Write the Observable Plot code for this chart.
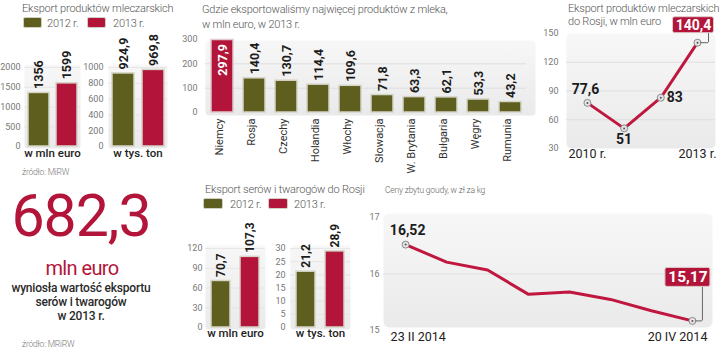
<!DOCTYPE html>
<html><head><meta charset="utf-8">
<script src="https://cdn.jsdelivr.net/npm/d3@7"></script>
<script src="https://cdn.jsdelivr.net/npm/@observablehq/plot@0.6"></script>
<style>
body{margin:0;background:#fff;}
#root{position:relative;width:720px;height:356px;overflow:hidden;font-family:Roboto,sans-serif;background:#fff;}
.t{position:absolute;white-space:nowrap;color:#555;font-weight:300;font-size:11px;line-height:1;letter-spacing:-0.2px;}
.sw{position:absolute;height:11px;border:1px solid #cfcfc2;border-radius:2px;box-sizing:border-box;}
</style></head><body>
<svg width="0" height="0" style="position:absolute"><defs>
<linearGradient id="pg" x1="0" y1="0" x2="0" y2="1"><stop offset="0" stop-color="#f7f7f7"/><stop offset="1" stop-color="#eaeaea"/></linearGradient>
</defs></svg>
<div id="root"></div>
<script>
// ---- data ----
const years = ["2012 r.", "2013 r."];
const dairyMlnEuro = [1356, 1599];
const dairyTysTon = [924.9, 969.8];
const countries = ["Niemcy","Rosja","Czechy","Holandia","Włochy","Słowacja","W. Brytania","Bułgaria","Węgry","Rumunia"];
const countryValues = [297.9, 140.4, 130.7, 114.4, 109.6, 71.8, 63.3, 62.1, 53.3, 43.2];
const russiaYears = [2010, 2011, 2012, 2013];
const russiaValues = [77.6, 51, 83, 140.4];
const cheeseMlnEuro = [70.7, 107.3];
const cheeseTysTon = [21.2, 28.9];
const goudaIndex = [0, 1, 2, 3, 4, 5, 6, 7];
const goudaPrices = [16.52, 16.21, 16.07, 15.64, 15.68, 15.55, 15.35, 15.17];
const goudaTickLabels = ["23 II 2014", "20 IV 2014"];

const OLIVE = "#5e5e1f", RED = "#b3153a", LINE = "#c0173f";
const root = document.getElementById("root");
const fmt = v => String(v).replace(".", ",");
const tf = d => String(d);
const style = {fontFamily: "Roboto, sans-serif", fontSize: "9px", color: "#777", background: "transparent", overflow: "visible"};
function place(el, left, top) { el.style.position = "absolute"; el.style.left = left + "px"; el.style.top = top + "px"; root.appendChild(el); }
function txt(s, left, top, css) { const d = document.createElement("div"); d.className = "t"; d.textContent = s; d.style.left = left + "px"; d.style.top = top + "px"; if (css) Object.assign(d.style, css); root.appendChild(d); return d; }
function sw(color, left, top, w) { const d = document.createElement("div"); d.className = "sw"; d.style.background = color; d.style.left = left + "px"; d.style.top = top + "px"; d.style.width = w + "px"; root.appendChild(d); }

function barPair(values, o) {
  const data = years.map((y, i) => ({year: y, value: values[i]}));
  const svg = Plot.plot({
    width: o.width, height: o.height, marginLeft: o.ml, marginRight: o.mr, marginTop: o.mt, marginBottom: o.mb,
    style,
    x: {domain: years, paddingInner: o.pi, paddingOuter: o.po, axis: null},
    y: {domain: [0, o.yMax], ticks: o.ticks, tickFormat: tf, tickSize: 0, tickPadding: o.tp, label: null},
    color: {domain: years, range: [OLIVE, RED]},
    marks: [
      Plot.frame({fill: "url(#pg)", stroke: null, rx: 3, insetTop: -3, insetBottom: -2}),
      Plot.ruleY(o.ticks.slice(1), {stroke: "#e2e2e2", strokeWidth: 0.8}),
      Plot.barY(data, {x: "year", y: "value", fill: "year", stroke: "#d5d5c8", strokeWidth: 1.5}),
      Plot.text(data, {x: "year", y: "value", text: d => fmt(d.value), rotate: -90, textAnchor: "start", dy: -4, fontWeight: "bold", fontSize: o.fs, fill: "#1c1c1c"}),
      Plot.text([o.label], {text: d => d, frameAnchor: "bottom", dy: o.labelDy, fontSize: 11.5, fontWeight: 500, fill: "#222"})
    ]
  });
  place(svg, o.left, o.top);
}

// ---- top-left panel ----
txt("Eksport produktów mleczarskich", 22, 3);
sw(OLIVE, 23, 17, 19); txt("2012 r.", 47, 18);
sw(RED, 87, 17, 19); txt("2013 r.", 113, 18);
barPair(dairyMlnEuro, {left: 0, top: 45, width: 85, height: 125, ml: 24, mr: 5, mt: 22, mb: 24, yMax: 2000, ticks: [0, 500, 1000, 1500, 2000], tp: 4, pi: 0.25, po: 0.1, fs: 12.5, label: "w mln euro", labelDy: 10});
barPair(dairyTysTon, {left: 84, top: 45, width: 90, height: 125, ml: 24, mr: 7, mt: 22, mb: 24, yMax: 1000, ticks: [0, 200, 400, 600, 800, 1000], tp: 5, pi: 0.27, po: 0.1, fs: 12.5, label: "w tys. ton", labelDy: 10});
txt("źródło: MiRW", 22, 168, {fontSize: "8.5px", color: "#777"});

// ---- top-middle panel ----
txt("Gdzie eksportowaliśmy najwięcej produktów z mleka,", 202, 4);
txt("w mln euro, w 2013 r.", 202, 18.5);
{
  const cData = countries.map((c, i) => ({country: c, value: countryValues[i], rank: i}));
  const svg = Plot.plot({
    width: 370, height: 155, marginLeft: 35, marginRight: 14, marginTop: 14, marginBottom: 68, style,
    x: {domain: countries, paddingInner: 0.327, paddingOuter: 0.077, axis: null},
    y: {domain: [0, 300], ticks: [0, 100, 200, 300], tickFormat: tf, tickSize: 0, tickPadding: 8, label: null},
    marks: [
      Plot.frame({fill: "url(#pg)", stroke: null, rx: 4, insetTop: 1, insetRight: -9, insetBottom: -3}),
      Plot.ruleY([100, 200], {stroke: "#dedede"}),
      Plot.barY(cData, {x: "country", y: "value", fill: OLIVE, stroke: "#d5d5c8", strokeWidth: 1.5, filter: d => d.rank > 0}),
      Plot.barY(cData, {x: "country", y: "value", fill: RED, stroke: "#e0c8cc", strokeWidth: 1.5, filter: d => d.rank === 0}),
      Plot.text(cData, {x: "country", y: "value", text: d => fmt(d.value), rotate: -90, textAnchor: "start", dy: -4, fontWeight: "bold", fontSize: 12.5, fill: "#1c1c1c", filter: d => d.rank > 0}),
      Plot.text(cData, {x: "country", y: "value", text: d => fmt(d.value), rotate: -90, textAnchor: "end", dy: 4, fontWeight: "bold", fontSize: 12.5, fill: "#fff", filter: d => d.rank === 0}),
      Plot.text(cData, {x: "country", text: "country", frameAnchor: "bottom", rotate: -90, textAnchor: "end", dy: 6, fontSize: 11, fill: "#333"})
    ]
  });
  place(svg, 170, 25);
}

// ---- top-right panel ----
txt("Eksport produktów mleczarskich", 568, 3);
txt("do Rosji, w mln euro", 568, 16);
{
  const rData = russiaYears.map((y, i) => ({year: y, value: russiaValues[i], i}));
  const last = rData.filter(d => d.i === rData.length - 1);
  const svg = Plot.plot({
    width: 190, height: 160, marginLeft: 36, marginRight: 5, marginTop: 23, marginBottom: 22, style,
    x: {domain: [2009.43, 2013.49], axis: null},
    y: {domain: [30, 150], ticks: [30, 60, 90, 120, 150], tickFormat: tf, tickSize: 0, tickPadding: 8, label: null},
    marks: [
      Plot.frame({fill: "url(#pg)", stroke: null, rx: 5}),
      Plot.ruleY([60, 90, 120], {stroke: "#dedede"}),
      Plot.line(rData, {x: "year", y: "value", stroke: LINE, strokeWidth: 3}),
      Plot.dot(rData, {x: "year", y: "value", r: 3.5, fill: "#e4e4e4", stroke: "#8a8a8a", strokeWidth: 1}),
      Plot.dot(rData, {x: "year", y: "value", r: 1, fill: "#555"}),
      Plot.text(rData, {x: "year", y: "value", text: d => fmt(d.value), filter: d => d.i === 0, dy: -13, dx: -2, fontWeight: "bold", fontSize: 14, fill: "#1c1c1c"}),
      Plot.text(rData, {x: "year", y: "value", text: d => fmt(d.value), filter: d => d.i === 1, dy: 11, fontWeight: "bold", fontSize: 14, fill: "#1c1c1c"}),
      Plot.text(rData, {x: "year", y: "value", text: d => fmt(d.value), filter: d => d.i === 2, dx: 6, textAnchor: "start", fontWeight: "bold", fontSize: 14, fill: "#1c1c1c"}),
      Plot.ruleX(last, {x: "year", y1: "value", y2: "value", dx: 11, insetTop: -10, stroke: "#666", strokeWidth: 1}),
      Plot.ruleY(last, {y: "value", x1: "year", x2: "year", insetLeft: 3, insetRight: -11, stroke: "#666", strokeWidth: 1}),
      Plot.rect(last, {x1: "year", x2: "year", y1: "value", y2: "value", insetLeft: -20.5, insetRight: -20.5, insetTop: -8, insetBottom: -8, dx: -4, dy: -17.5, fill: RED, stroke: "#dcc", strokeWidth: 1, rx: 2}),
      Plot.text(last, {x: "year", y: "value", text: d => fmt(d.value), dx: -4, dy: -17.5, fontWeight: "bold", fontSize: 14, fill: "#fff"}),
      Plot.text(rData, {x: "year", text: d => d.year + " r.", filter: d => d.i === 0 || d.i === rData.length - 1, frameAnchor: "bottom", dy: 9, fontSize: 12.5, fill: "#222"})
    ]
  });
  place(svg, 530, 10);
}

// ---- bottom-left panel ----
const centre = (s, top, css) => txt(s, 1, top, Object.assign({width: "160px", textAlign: "center"}, css));
centre("682,3", 185.5, {fontSize: "59px", color: RED, fontWeight: 400, letterSpacing: "-1px"});
centre("mln euro", 258, {fontSize: "20px", color: RED, fontWeight: 400, letterSpacing: "-0.6px", left: "2px"});
const desc = centre("", 280.5, {fontSize: "12px", color: "#2a2a2a", fontWeight: 500, lineHeight: "14px", letterSpacing: "-0.2px"});
desc.innerHTML = "wyniosła wartość eksportu<br>serów i twarogów<br>w 2013 r.";
txt("źródło: MRiRW", 22, 340, {fontSize: "8.5px", color: "#777"});

// ---- bottom-middle panel ----
txt("Eksport serów i twarogów do Rosji", 205, 184);
sw(OLIVE, 203, 198, 20); txt("2012 r.", 230, 199);
sw(RED, 268, 198, 20); txt("2013 r.", 294, 199);
barPair(cheeseMlnEuro, {left: 170, top: 225, width: 100, height: 120, ml: 35, mr: 5, mt: 23, mb: 18, yMax: 120, ticks: [0, 30, 60, 90, 120], tp: 3, pi: 0.333, po: 0.167, fs: 12, label: "w mln euro", labelDy: 9});
barPair(cheeseTysTon, {left: 255, top: 225, width: 100, height: 120, ml: 35, mr: 5, mt: 23, mb: 18, yMax: 30, ticks: [0, 5, 10, 15, 20, 25, 30], tp: 5, pi: 0.333, po: 0.167, fs: 12, label: "w tys. ton", labelDy: 9});

// ---- bottom-right panel ----
txt("Ceny zbytu goudy, w zł za kg", 385, 186, {fontSize: "8.5px", color: "#666"});
{
  const gData = goudaIndex.map((x, i) => ({x, value: goudaPrices[i]}));
  const first = gData.slice(0, 1), last = gData.slice(-1);
  const svg = Plot.plot({
    width: 365, height: 150, marginLeft: 28, marginRight: 8, marginTop: 17, marginBottom: 20, style,
    x: {domain: [-0.54, 7.49], axis: null},
    y: {domain: [15, 17], ticks: [15, 16, 17], tickFormat: tf, tickSize: 0, tickPadding: 4, label: null},
    marks: [
      Plot.frame({fill: "url(#pg)", stroke: null, rx: 6, insetTop: -4, insetBottom: 3}),
      Plot.ruleY([16], {stroke: "#e0e0e0"}),
      Plot.line(gData, {x: "x", y: "value", stroke: LINE, strokeWidth: 3}),
      Plot.dot(first.concat(last), {x: "x", y: "value", r: 3.5, fill: "#e4e4e4", stroke: "#8a8a8a", strokeWidth: 1}),
      Plot.dot(first.concat(last), {x: "x", y: "value", r: 1, fill: "#555"}),
      Plot.text(first, {x: "x", y: "value", text: d => fmt(d.value), dy: -14, dx: 2, fontWeight: "bold", fontSize: 14, fill: "#1c1c1c"}),
      Plot.ruleX(last, {x: "x", y1: "value", y2: "value", dx: 10, insetTop: -34, stroke: "#666", strokeWidth: 1}),
      Plot.ruleY(last, {y: "value", x1: "x", x2: "x", insetLeft: 3, insetRight: -10, stroke: "#666", strokeWidth: 1}),
      Plot.rect(last, {x1: "x", x2: "x", y1: "value", y2: "value", insetLeft: -22.5, insetRight: -22.5, insetTop: -9.5, insetBottom: -9.5, dx: -4.5, dy: -43.5, fill: RED, stroke: "#dcc", strokeWidth: 1, rx: 2}),
      Plot.text(last, {x: "x", y: "value", text: d => fmt(d.value), dx: -4.5, dy: -43.5, fontWeight: "bold", fontSize: 15.5, fill: "#fff"}),
      Plot.text(first, {x: "x", text: () => goudaTickLabels[0], frameAnchor: "bottom", textAnchor: "start", dx: -15, dy: 10, fontSize: 12.5, fill: "#222"}),
      Plot.text(last, {x: "x", text: () => goudaTickLabels[1], frameAnchor: "bottom", textAnchor: "end", dx: 15, dy: 10, fontSize: 12.5, fill: "#222"})
    ]
  });
  place(svg, 355, 200);
}
</script></body></html>
